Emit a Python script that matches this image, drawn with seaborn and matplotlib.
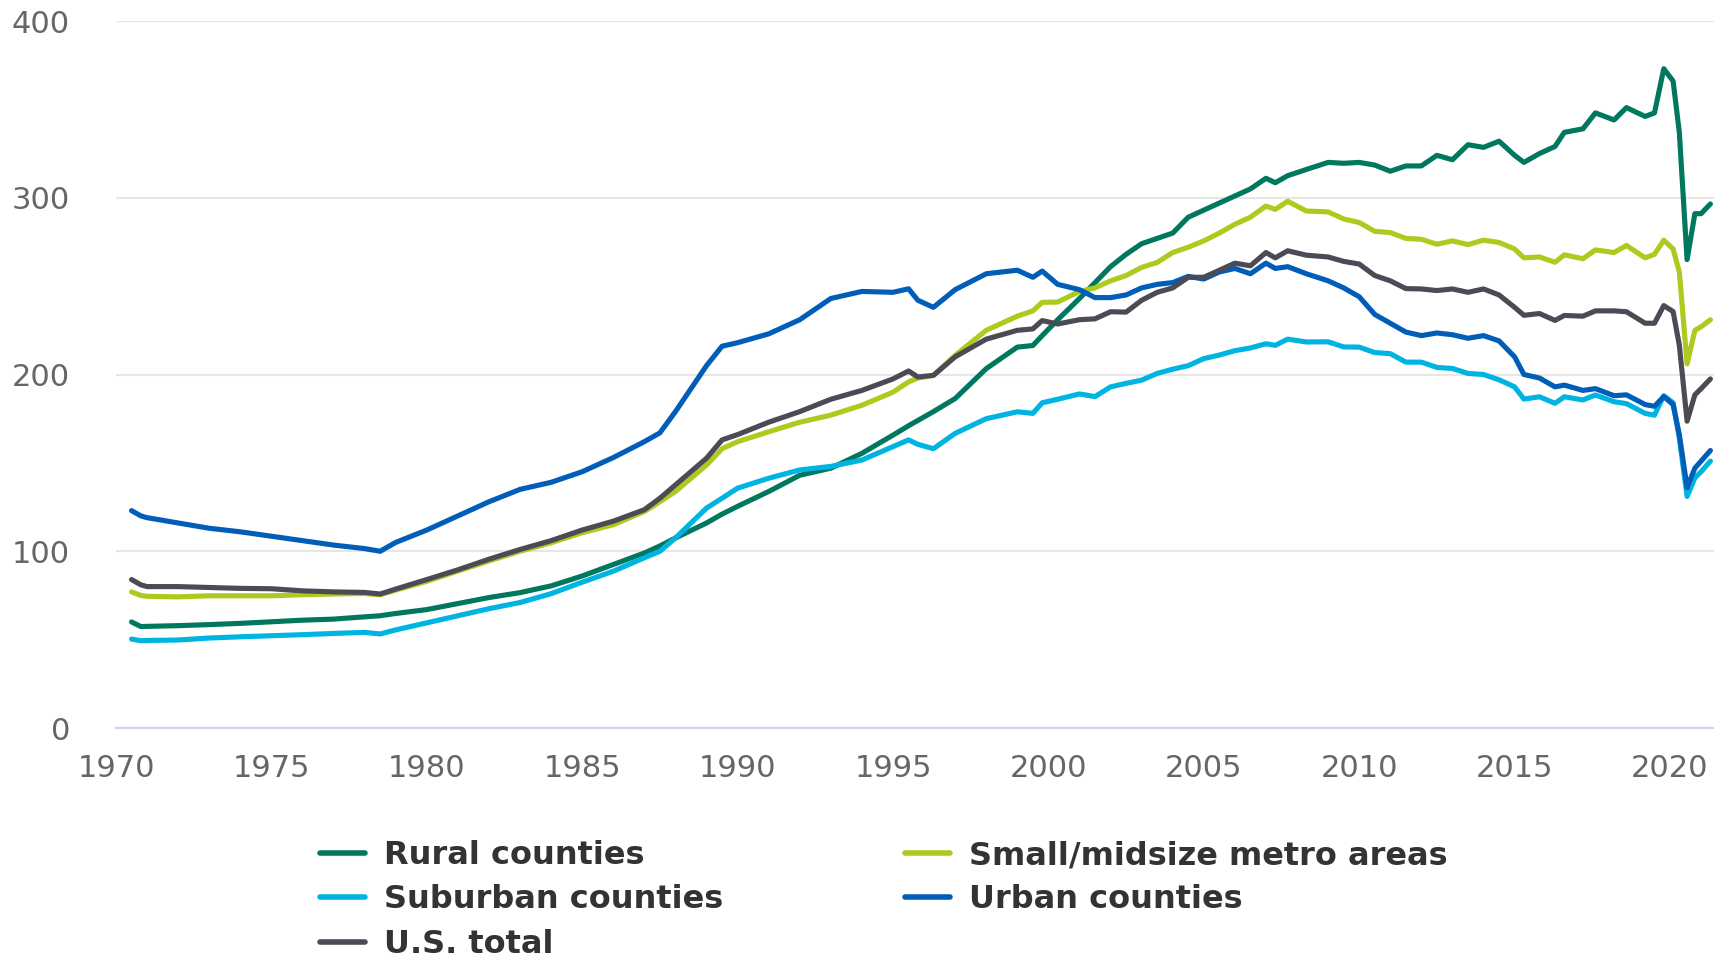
import numpy as np
import pandas as pd
import matplotlib
matplotlib.use('Agg')
import matplotlib.pyplot as plt
import seaborn as sns

# quarterly-ish sample points
years = [1970.5, 1970.8, 1971, 1972, 1973, 1974, 1975, 1976, 1977, 1978,
         1978.5, 1979, 1980, 1981, 1982, 1983, 1984, 1985, 1986, 1987,
         1987.5, 1988, 1989, 1989.5, 1990, 1991, 1992, 1993, 1994, 1995,
         1995.5, 1995.8, 1996.3, 1997, 1998, 1999, 1999.5, 1999.8, 2000.3, 2001,
         2001.5, 2002, 2002.5, 2003, 2003.5, 2004, 2004.5, 2005, 2005.5, 2006,
         2006.5, 2007, 2007.3, 2007.7, 2008.3, 2009, 2009.5, 2010, 2010.5, 2011,
         2011.5, 2012, 2012.5, 2013, 2013.5, 2014, 2014.5, 2015, 2015.3, 2015.8,
         2016.3, 2016.6, 2017.2, 2017.6, 2018.2, 2018.6, 2019.2, 2019.5, 2019.8, 2020.1,
         2020.3, 2020.55, 2020.8, 2021.0, 2021.3]

rural = [60, 57.4, 57.5, 57.9, 58.5, 59.2, 60.1, 61, 61.6, 62.9,
         63.5, 64.8, 67, 70.4, 73.8, 76.6, 80.4, 86, 92.5, 99,
         103, 107.5, 116, 121, 125.4, 133.8, 143, 147, 155.4, 165.7,
         171, 174, 179, 186.4, 203.3, 215.5, 216.4, 222, 231, 243,
         252, 261, 268, 274, 277, 280, 289, 293, 297, 301,
         305, 311, 308.5, 312.5, 316, 320, 319.5, 320, 318.5, 315,
         318, 318, 324, 321.5, 330, 328.5, 332, 324, 320, 325,
         329, 337, 339, 348, 344, 351, 346, 348, 373, 366,
         337, 265, 291, 291, 296.5]

small_metro = [77, 75, 74.5, 74.2, 74.8, 74.8, 74.8, 75.4, 75.8, 76.1,
               75.4, 78, 83, 88.8, 94.5, 100, 104.8, 110.5, 115, 122.5,
               128, 133.8, 148.8, 158, 162, 167.6, 173, 177, 182.6, 190,
               195.8, 198, 199.5, 210.8, 225, 233, 236, 240.8, 241, 247,
               249, 253, 256, 260.6, 263.4, 269, 272, 275.6, 280, 285,
               289, 295.3, 293.4, 298, 292.5, 292, 288, 286, 281, 280.3,
               277, 276.5, 273.7, 275.6, 273.5, 276, 274.7, 271, 266, 266.5,
               263.5, 267.7, 265.5, 270.5, 269, 273, 266, 268, 276, 271,
               258, 206, 225, 227, 231]

suburban = [50.3, 49.4, 49.5, 49.8, 50.9, 51.6, 52.2, 52.8, 53.5, 54.1,
            53.2, 55.5, 59.5, 63.5, 67.5, 71, 76, 82.5, 88.7, 96.3,
            100, 107.5, 124.4, 130, 135.7, 141.3, 146, 148, 151.6, 159.2,
            163, 160.5, 158, 166.7, 175, 178.9, 178, 184, 186, 189,
            187.5, 193, 195, 196.8, 200.6, 203, 205, 209, 211, 213.5,
            215, 217.4, 216.5, 220, 218.4, 218.5, 215.6, 215.5, 212.4, 211.8,
            207, 207, 204, 203.4, 200.6, 200, 197, 193, 186.1, 187.4,
            183.7, 187.4, 185.6, 188.4, 184.6, 183.5, 178, 177, 188, 184,
            164, 131, 141.5, 145, 151]

urban = [123, 120, 119, 116, 113, 111, 108.5, 106, 103.5, 101.5,
         100, 105, 112, 120, 128, 135, 139, 145, 153, 162,
         167, 179, 205, 216, 218, 223, 231, 243, 247, 246.5,
         248.5, 242, 238, 248, 257, 259, 255, 258.5, 251, 248,
         243.5, 243.5, 245, 249, 251, 252, 255.5, 254, 258, 260,
         257, 263, 260, 261, 257, 253, 249, 244, 234, 229,
         224, 222, 223.5, 222.5, 220.5, 222, 219, 210, 200, 198,
         193, 194, 191, 192, 188, 188.5, 183, 182, 187.5, 183,
         166, 136, 147, 151, 157]

us_total = [84, 81, 80, 80, 79.5, 79, 78.8, 77.6, 77, 76.7,
            75.8, 78.6, 84, 89.5, 95.5, 101, 106, 112, 117, 123.5,
            130, 137.5, 152.6, 163, 166, 173, 179, 186, 191, 197.5,
            202, 198.6, 199.5, 210, 220, 225, 225.8, 230.5, 228.6, 231,
            231.5, 235.5, 235.3, 242, 246.5, 249, 255, 255, 259, 263,
            261.5, 269, 266, 270, 267.5, 266.5, 264, 262.5, 256, 253,
            248.6, 248.4, 247.5, 248.4, 246.5, 248.4, 245, 238, 233.5, 234.5,
            230.6, 233.4, 233, 236, 236, 235.5, 229, 229, 239, 235.6,
            216.6, 173.6, 188.5, 192, 197.5]

series_names = ['Rural counties', 'Small/midsize metro areas', 'Suburban counties',
                'Urban counties', 'U.S. total']
series_values = [rural, small_metro, suburban, urban, us_total]
colors = ['#00775f', '#afca1e', '#00b4e1', '#005db8', '#4a4b55']

df = pd.concat([pd.DataFrame({'year': years, 'value': vals, 'series': name})
                for name, vals in zip(series_names, series_values)], ignore_index=True)

sns.set_style('white')
plt.rcParams['font.family'] = ['DejaVu Sans']

fig = plt.figure(figsize=(17.14, 9.61), dpi=100)
ax = fig.add_axes([116 / 1714, 1 - 728 / 961, 1 - 116 / 1714, (728 - 21) / 961])

sns.lineplot(data=df, x='year', y='value', hue='series', hue_order=series_names,
             palette=dict(zip(series_names, colors)), linewidth=3.7, sort=False,
             legend=False, ax=ax)

ax.set_xlim(1970, 1970 + (1714 - 116) / 31.08)
ax.set_ylim(0, 400)
ax.set_xticks(range(1970, 2021, 5))
ax.set_yticks([0, 100, 200, 300, 400])
ax.set_xlabel('')
ax.set_ylabel('')

ax.grid(axis='y', color='#e6e6e6', linewidth=1.5)
ax.grid(axis='x', visible=False)
for side in ['top', 'right', 'left']:
    ax.spines[side].set_visible(False)
ax.spines['bottom'].set_color('#ccd6eb')
ax.spines['bottom'].set_linewidth(1.6)

ax.tick_params(axis='x', direction='out', length=17, width=1.5, color='#ccd6eb',
               labelsize=22, labelcolor='#666666', pad=2)
ax.tick_params(axis='y', length=0, labelsize=22, labelcolor='#666666', pad=33)

# legend: column-major fill gives rows Rural/Small, Suburban/Urban, U.S. total
handles = ax.get_lines()[:5]
order = [0, 2, 4, 1, 3]
leg = fig.legend([handles[i] for i in order], [series_names[i] for i in order],
                 loc='upper left', bbox_to_anchor=(320 / 1714, 1 - 840 / 961),
                 ncol=2, frameon=False, borderpad=0, borderaxespad=0,
                 handlelength=1.4, handletextpad=0.6, columnspacing=5.7,
                 labelspacing=0.42, prop={'weight': 'bold', 'size': 23})
for txt in leg.get_texts():
    txt.set_color('#333333')
for line in leg.get_lines():
    line.set_linewidth(4)

fig.savefig('out.png', dpi=100)
